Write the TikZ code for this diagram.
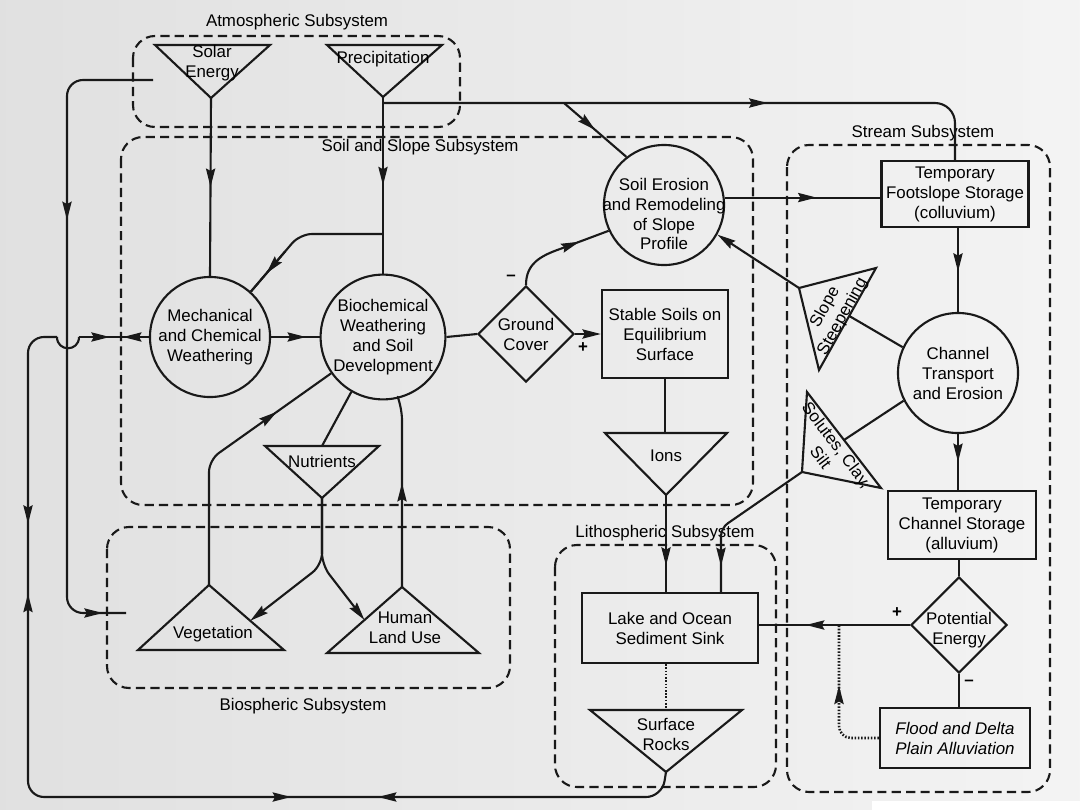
\documentclass[tikz,border=0pt]{standalone}
\usepackage{fontspec}
\setmainfont{Liberation Sans}
\usetikzlibrary{shapes.geometric,arrows.meta,decorations.markings,calc}
\newcommand{\diagfont}{\fontsize{12}{14.2}\selectfont}
\tikzset{myarr/.tip={Stealth[length=4.6mm,width=2.3mm,inset=0.6mm]}}
\begin{document}
\begin{tikzpicture}[x=0.025cm,y=-0.025cm,
  every node/.style={font=\diagfont, text=black},
  ln/.style={line width=1.5pt, draw=black!90, line join=round},
  dotln/.style={line width=1.8pt, draw=black!90, dash pattern=on 1.1pt off 1.2pt},
  sub/.style={line width=1.5pt, draw=black!90, dash pattern=on 2.3mm off 1.3mm, rounded corners=5.5mm},
  circ/.style={circle, draw=black!90, line width=1.5pt, minimum size=3cm, inner sep=0pt, align=center},
  boxn/.style={rectangle, draw=black!90, line width=1.6pt, inner sep=0pt, align=center},
  dia/.style={diamond, draw=black!90, line width=1.5pt, minimum width=2.4cm, minimum height=2.4cm, inner sep=0pt},
  txt/.style={align=center, inner sep=0pt},
  tri/.style={line width=1.5pt, draw=black!90, line join=miter},
  mid/.style={postaction={decorate, decoration={markings, mark=at position #1 with {\arrow{myarr}}}}},
  midr/.style={postaction={decorate, decoration={markings, mark=at position #1 with {\arrowreversed{myarr}}}}},
]
\useasboundingbox (0,0) rectangle (1080,810);
\shade[left color=gray!24, right color=gray!9] (0,0) rectangle (1080,810);
\fill[white] (872,801) rectangle (1080,810);

% ---------- subsystem frames ----------
\draw[sub] (133,36) rectangle (460,127);
\node[txt] (atmlbl) at (297,22) {Atmospheric Subsystem};
\draw[sub] (121,137) rectangle (753,505);
\node[txt] (soillbl) at (420,147) {Soil and Slope Subsystem};
\draw[sub] (787,145) rectangle (1050,792);
\node[txt] (strlbl) at (923,133) {Stream Subsystem};
\draw[sub] (555,545) rectangle (776,787);
\node[txt] (litlbl) at (665,533) {Lithospheric Subsystem};
\draw[sub] (107,527) rectangle (510,688);
\node[txt] (biolbl) at (303,706) {Biospheric Subsystem};

% ---------- triangles ----------
\coordinate (solA) at (155,45); \coordinate (solB) at (270,45); \coordinate (solC) at (211,98);
\draw[tri] (solA) -- (solB) -- (solC) -- cycle;
\node[txt] (soltxt) at (212,63) {Solar\\Energy};
\coordinate (preA) at (327,45); \coordinate (preB) at (442,45); \coordinate (preC) at (383,97);
\draw[tri] (preA) -- (preB) -- (preC) -- cycle;
\node[txt] (pretxt) at (383,59) {Precipitation};
\coordinate (nutA) at (265,446); \coordinate (nutB) at (379,446); \coordinate (nutC) at (322,498);
\draw[tri] (nutA) -- (nutB) -- (nutC) -- cycle;
\node[txt] (nuttxt) at (322,461) {Nutrients};
\coordinate (ionA) at (605,433); \coordinate (ionB) at (727,433); \coordinate (ionC) at (666,495);
\draw[tri] (ionA) -- (ionB) -- (ionC) -- cycle;
\node[txt] (iontxt) at (666,456) {Ions};
\coordinate (surA) at (590,710); \coordinate (surB) at (742,710); \coordinate (surC) at (666,772);
\draw[tri] (surA) -- (surB) -- (surC) -- cycle;
\node[txt] (surtxt) at (666,734) {Surface\\Rocks};
\coordinate (vegA) at (209,585); \coordinate (vegL) at (138,650); \coordinate (vegR) at (284,650);
\draw[tri] (vegA) -- (vegR) -- (vegL) -- cycle;
\node[txt] (vegtxt) at (213,634) {Vegetation};
\coordinate (humA) at (402,587); \coordinate (humL) at (327,653); \coordinate (humR) at (479,653);
\draw[tri] (humA) -- (humR) -- (humL) -- cycle;
\node[txt] (humtxt) at (405,628) {Human\\Land Use};
\coordinate (stpA) at (799,288); \coordinate (stpB) at (876,268); \coordinate (stpC) at (819,370);
\draw[tri] (stpA) -- (stpB) -- (stpC) -- cycle;
\node[txt, rotate=61] (stptxt) at (834,312) {Slope\\Steepening};
\coordinate (soluA) at (807,392); \coordinate (soluB) at (881,488); \coordinate (soluC) at (802,472);
\draw[tri] (soluA) -- (soluB) -- (soluC) -- cycle;
\node[txt, rotate=-53] (solutxt) at (829,451) {Solutes, Clay,\\Silt};

% ---------- circles, diamonds, boxes ----------
\node[circ] (mech) at (210,337) {Mechanical\\and Chemical\\Weathering};
\node[circ] (bio) at (383,337) {Biochemical\\Weathering\\and Soil\\Development};
\node[circ] (eros) at (664,205) {};
\node[txt] (erostxt) at (664,214) {Soil Erosion\\and Remodeling\\of Slope\\Profile};
\node[circ] (chan) at (958,373) {Channel\\Transport\\and Erosion};
\node[dia] (gc) at (526,334) {};
\node[txt] (gctxt) at (526,334) {Ground\\Cover};
\node[dia] (pot) at (959,625) {};
\node[txt] (pottxt) at (959,630) {Potential\\Energy};
\node[boxn, minimum width=3.675cm, minimum height=1.65cm] (foot) at (955,194) {Temporary\\Footslope Storage\\(colluvium)};
\node[boxn, minimum width=3.15cm, minimum height=2.2cm] (stab) at (665,334) {Stable Soils on\\Equilibrium\\Surface};
\node[boxn, minimum width=3.7cm, minimum height=1.7cm] (store) at (962,525) {Temporary\\Channel Storage\\(alluvium)};
\node[boxn, minimum width=3.75cm, minimum height=1.5cm, font=\diagfont\itshape] (flood) at (955,738) {Flood and Delta\\Plain Alluviation};
\node[boxn, minimum width=4.4cm, minimum height=1.75cm] (lake) at (670,628) {Lake and Ocean\\Sediment Sink};

% ---------- connectors ----------
\coordinate (ptop) at (383,103);
\coordinate (pbr) at (383,234);
\coordinate (pbend) at (300,234);
\coordinate (pbr2) at (564,103);
\draw[ln, mid=0.5] (solC) -- (mech.north);
\draw[ln, mid=0.5] (preC) -- (bio.north);
\draw[ln, rounded corners=3mm] (pbr) -- (pbend) -- (mech.48);
\draw[ln, mid=0.55] ($(pbend)!0.3!(mech.48)$) -- (mech.48);
\draw[ln, rounded corners=5mm, mid=0.62] (ptop) -- (955,103) -- (foot.north);
\draw[ln, mid=0.5] (pbr2) -- (eros.128);

\coordinate (slA) at (153,80);
\coordinate (slE) at (126,613);
\draw[ln, rounded corners=4mm, mid=0.33, mid=0.965] (slA) -- (67,80) -- (67,613) -- (slE);

\draw[ln, mid=0.37, midr=0.56] (mech.west) -- (79,337);
\draw[ln] (79,337) .. controls (79,352) and (57,352) .. (57,337);
\draw[ln, rounded corners=4mm, mid=0.185, midr=0.247, mid=0.654, midr=0.731] (57,337) -- (28,337) -- (28,797) -- (662,797) -- (surC);

\draw[ln, mid=0.72] (mech.east) -- (bio.west);
\draw[ln] (bio.east) -- (gc.west);
\draw[ln, -myarr] (gc.east) -- (stab.west);
\node[txt] (plus1) at (583,348) {\textbf{+}};
\coordinate (gcb) at (560,249);
\draw[ln] (gc.north) .. controls (526,264) and (540,256) .. (gcb);
\draw[ln, mid=0.4] (gcb) -- (eros.205);
\node[txt] (minus1) at (511,278) {\textbf{–}};

\draw[ln] (stab.south) -- (stab.south |- ionA);
\draw[ln, mid=0.73] (ionC) -- (ionC |- lake.north);
\coordinate (sbend) at (721,528);
\draw[ln, rounded corners=2mm, mid=0.84] (soluC) -- (sbend) -- (sbend |- lake.north);
\coordinate (soluH) at ($(soluA)!0.5!(soluB)$);
\draw[ln] (chan.207) -- (soluH);
\coordinate (stpH) at ($(stpB)!0.47!(stpC)$);
\draw[ln] (stpH) -- (chan.155);
\draw[ln, -myarr] (stpA) -- (eros.-29);
\draw[ln, mid=0.59] (eros.7) -- (eros.7 -| foot.west);
\draw[ln, mid=0.52] (chan.north |- foot.south) -- (chan.north);
\draw[ln, mid=0.5] (chan.south) -- (chan.south |- store.north);
\draw[ln] (pot.north |- store.south) -- (pot.north);
\draw[ln, mid=0.69] (pot.west) -- (pot.west -| lake.east);
\node[txt] (plus2) at (897,613) {\textbf{+}};
\draw[ln] (pot.south) -- (pot.south |- flood.north);
\node[txt] (minus2) at (969,683) {\textbf{–}};
\coordinate (fbend) at (839,738);
\draw[dotln, rounded corners=3mm, mid=0.59] (flood.west) -- (fbend) -- (fbend |- pot.west);
\draw[dotln] (lake.south -| surC) -- (surC |- surA);

\coordinate (nutTop) at ($(nutA)!0.5!(nutB)$);
\draw[ln] (bio.240) -- (nutTop);
\coordinate (nsplit) at (322,565);
\draw[ln, rounded corners=3mm, -myarr] (nutC) -- (nsplit) -- ($(vegA)!0.55!(vegR)$);
\draw[ln, rounded corners=3mm, -myarr] (nutC) -- (nsplit) -- ($(humA)!0.5!(humL)$);
\coordinate (vbend) at (209,460);
\draw[ln, rounded corners=3mm, mid=0.757] (vegA) -- (vbend) -- (bio.215);
\coordinate (hbend) at (402,408);
\draw[ln, rounded corners=3mm, mid=0.54] (humA) -- (hbend) -- (bio.-76);
\end{tikzpicture}
\end{document}
